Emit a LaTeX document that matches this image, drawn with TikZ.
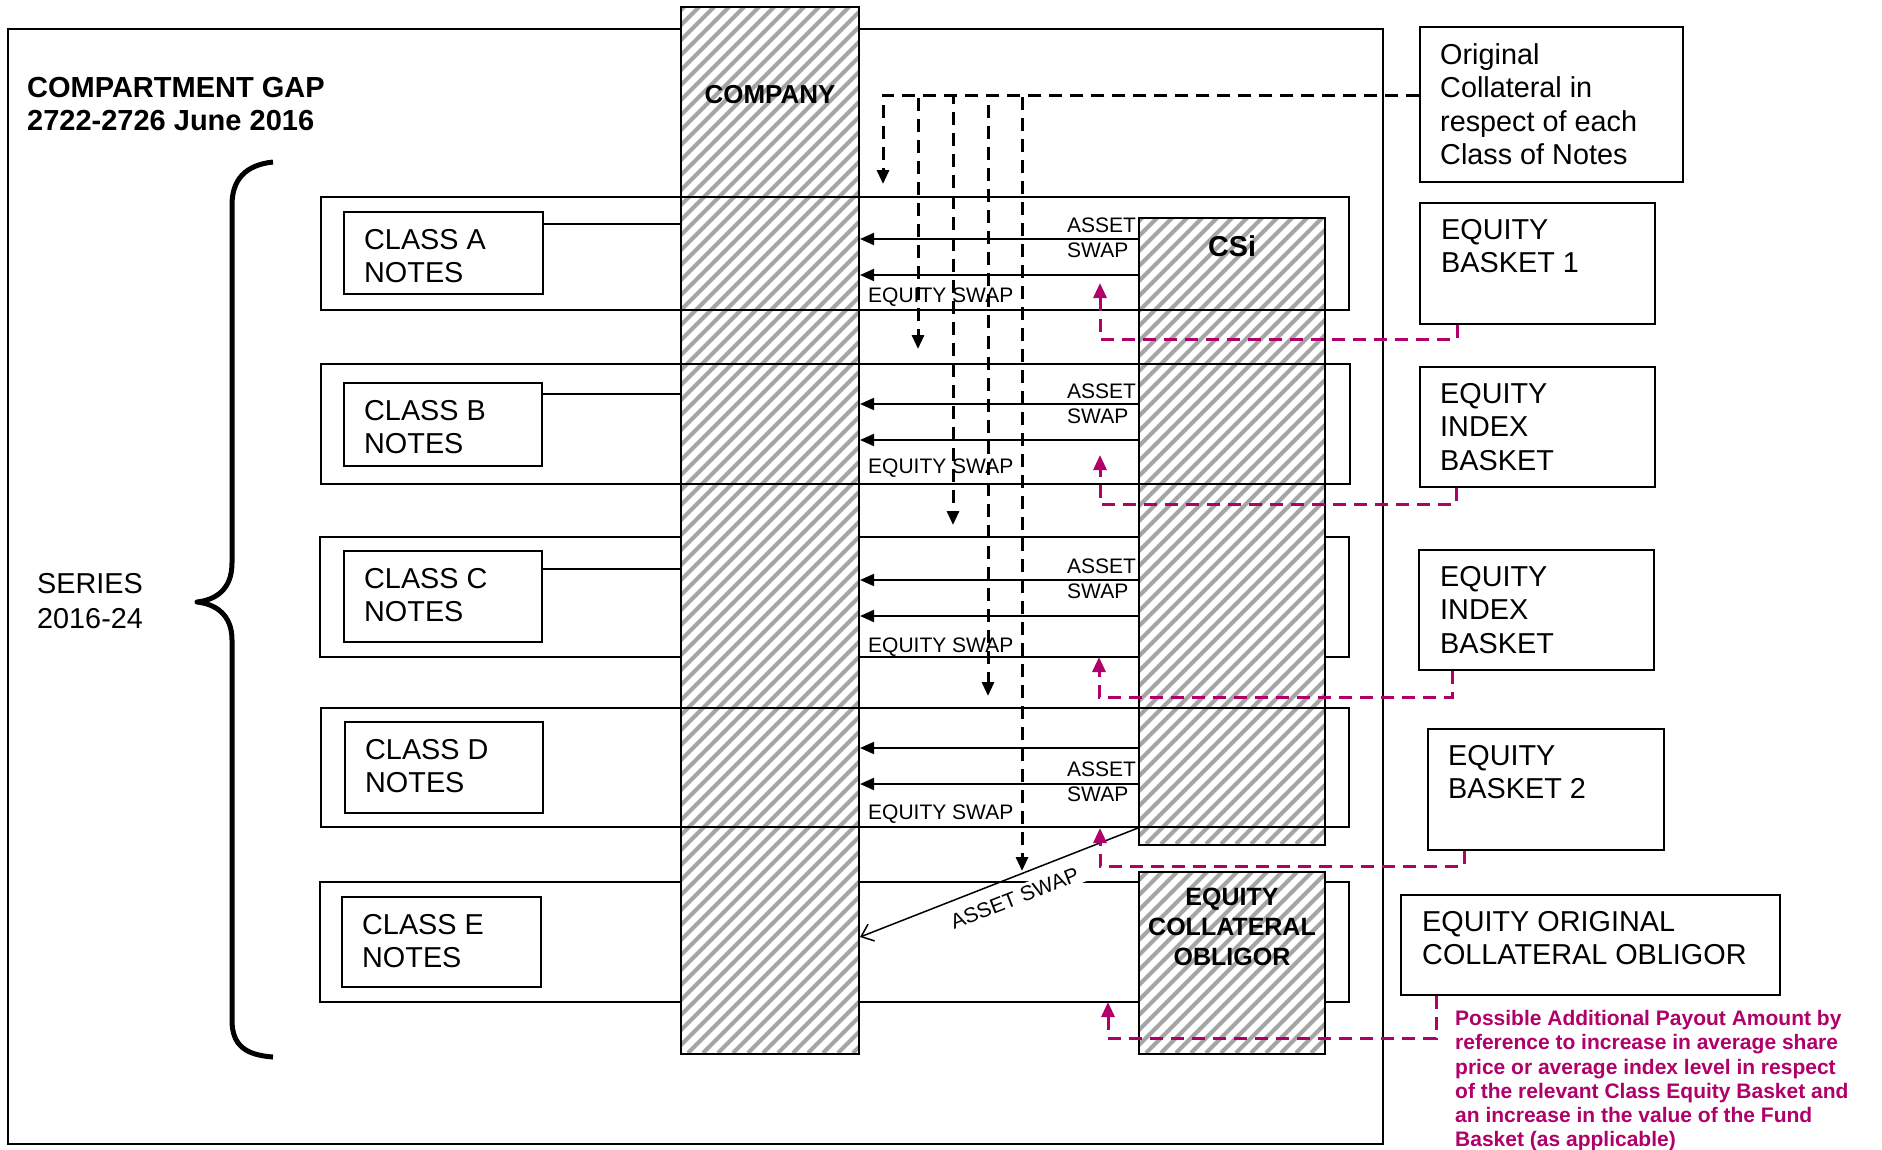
\documentclass[tikz,border=0pt]{standalone}
\usepackage{fontspec}
\setmainfont{Liberation Sans}
\usetikzlibrary{arrows.meta}

\definecolor{payout}{RGB}{176,0,106}
\definecolor{hatchgrey}{RGB}{165,165,165}

\tikzset{
  notebox/.style={draw, line width=2pt, inner sep=0pt, anchor=north west},
  lbl/.style={font=\fontsize{28.8pt}{33.5pt}\selectfont, align=left, inner sep=0pt, anchor=north west},
  swaplbl/.style={font=\fontsize{21pt}{25pt}\selectfont, align=left, inner sep=0pt, anchor=north west},
  flow/.style={-{Triangle[length=14pt,width=12pt]}, line width=2pt},
  feed/.style={-{Triangle[length=14pt,width=12pt]}, line width=3pt, dash pattern=on 13pt off 8pt},
  payline/.style={-{Triangle[length=15pt,width=13pt]}, payout, line width=3pt, dash pattern=on 13pt off 8pt}
}

\begin{document}
\begin{tikzpicture}[x=1pt, y=-1pt]
  \useasboundingbox (0,0) rectangle (1882,1149);

  % Compartment frame
  \draw[line width=2pt] (8,29) rectangle (1383,1144);
  \node[lbl, font=\fontsize{29pt}{33pt}\selectfont\bfseries] (title) at (27,77) {COMPARTMENT GAP\\2722-2726 June 2016};

  % Series brace
  \draw[line width=5pt, line join=round] (273,162) .. controls (245,165) and (232,180) .. (232,205) -- (232,563)
    .. controls (232,590) and (215,600) .. (197,602) .. controls (215,604) and (232,614) .. (232,640)
    -- (232,1020) .. controls (232,1045) and (245,1055) .. (273,1057);
  \node[lbl, font=\fontsize{28.8pt}{35pt}\selectfont] (series) at (37,573) {SERIES\\2016-24};

  % Rows hidden behind the columns
  \node[notebox, minimum width=1029pt, minimum height=120pt] (rowC) at (319,536) {};
  \node[notebox, minimum width=1029pt, minimum height=120pt] (rowE) at (319,881) {};

  % Hatched columns
  \foreach \xa/\ya/\xb/\yb in {680/6/858/1053, 1138/217/1324/844, 1138/871/1324/1053} {
    \begin{scope}
      \clip (\xa,\ya) rectangle (\xb,\yb);
      \fill[white] (\xa,\ya) rectangle (\xb,\yb);
      \pgfmathsetmacro{\h}{\yb-\ya}
      \foreach \k in {-1072,-1057,...,208} {
        \draw[hatchgrey, line width=4pt] (\xa+\k,\yb) -- ++(\h,-\h);
      }
    \end{scope}
  }
  \node[notebox, minimum width=178pt, minimum height=1047pt] (company) at (680,6) {};
  \node[notebox, minimum width=186pt, minimum height=627pt] (csi) at (1138,217) {};
  \node[notebox, minimum width=186pt, minimum height=182pt] (eco) at (1138,871) {};
  \node[lbl, font=\fontsize{26pt}{30pt}\selectfont\bfseries, anchor=north] (companyt) at ([yshift=-79pt]company.north) {COMPANY};
  \node[lbl, font=\fontsize{28.8pt}{33pt}\selectfont\bfseries, anchor=north] (csit) at ([yshift=-18pt]csi.north) {CSi};
  \node[lbl, font=\fontsize{25pt}{30pt}\selectfont\bfseries, align=center, anchor=north] (ecot) at ([yshift=-17pt]eco.north) {EQUITY\\COLLATERAL\\OBLIGOR};

  % Rows in front of the columns
  \node[notebox, minimum width=1028pt, minimum height=113pt] (rowA) at (320,196) {};
  \node[notebox, minimum width=1029pt, minimum height=120pt] (rowB) at (320,363) {};
  \node[notebox, minimum width=1028pt, minimum height=119pt] (rowD) at (320,707) {};

  % Classes of notes
  \foreach \c/\x/\y/\w/\h in {A/343/211/199/82, B/343/382/198/83, C/343/550/198/91, D/344/721/198/91, E/341/896/199/90} {
    \node[notebox, minimum width=\w pt, minimum height=\h pt] (cl\c) at (\x,\y) {};
    \node[lbl] (txt\c) at ([shift={(21pt,-18pt)}]cl\c.north west) {CLASS \c\\NOTES};
  }
  \foreach \c/\d in {A/13, B/12, C/19}
    \draw[line width=2pt] ([yshift=-\d pt]cl\c.north east) -- ([yshift=-\d pt]cl\c.north east -| company.west);

  % Swaps
  \foreach \r/\da/\db/\ta/\te in {A/43/79/218/288, B/41/77/384/459, C/44/80/559/638, D/41/77/762/805} {
    \draw[flow] ([yshift=-\da pt]row\r.north -| csi.west) -- ([yshift=-\da pt]row\r.north -| company.east);
    \draw[flow] ([yshift=-\db pt]row\r.north -| csi.west) -- ([yshift=-\db pt]row\r.north -| company.east);
    \node[swaplbl] (as\r) at (1067,\ta) {ASSET\\SWAP};
    \node[swaplbl] (es\r) at (868,\te) {EQUITY SWAP};
  }
  \draw[line width=1.5pt, {Straight Barb[length=11pt,width=18pt]}-] ([yshift=-56pt]rowE.north -| company.east)
    -- node[swaplbl, fill=white, inner xsep=14pt, inner ysep=3pt, sloped, pos=0.53, below=9pt] (asE) {ASSET SWAP} (rowD.south -| csi.west);

  % Original collateral
  \node[notebox, minimum width=263pt, minimum height=155pt] (orig) at (1419,26) {};
  \node[lbl] (origt) at ([shift={(21pt,-17pt)}]orig.north west) {Original\\Collateral in\\respect of each\\Class of Notes};
  \coordinate (feed1) at (883,184);
  \coordinate (feed2) at (918,349);
  \coordinate (feed3) at (953,525);
  \coordinate (feed4) at (988,696);
  \coordinate (feed5) at (1022,871);
  \foreach \k in {1,...,5}
    \draw[feed] ([yshift=-69pt]orig.north west) -| (feed\k);

  % Baskets
  \node[notebox, minimum width=235pt, minimum height=121pt] (bask1) at (1419,202) {};
  \node[lbl] (bask1t) at ([shift={(22pt,-17pt)}]bask1.north west) {EQUITY\\BASKET 1};
  \node[notebox, minimum width=235pt, minimum height=120pt] (index1) at (1419,366) {};
  \node[lbl] (index1t) at ([shift={(21pt,-17pt)}]index1.north west) {EQUITY\\INDEX\\BASKET};
  \node[notebox, minimum width=235pt, minimum height=120pt] (index2) at (1418,549) {};
  \node[lbl] (index2t) at ([shift={(22pt,-17pt)}]index2.north west) {EQUITY\\INDEX\\BASKET};
  \node[notebox, minimum width=236pt, minimum height=121pt] (bask2) at (1427,728) {};
  \node[lbl] (bask2t) at ([shift={(21pt,-17pt)}]bask2.north west) {EQUITY\\BASKET 2};
  \node[notebox, minimum width=379pt, minimum height=100pt] (eoco) at (1400,894) {};
  \node[lbl] (eocot) at ([shift={(22pt,-17pt)}]eoco.north west) {EQUITY ORIGINAL\\COLLATERAL OBLIGOR};

  % Additional payout
  \coordinate (pay1) at (1100,283);
  \coordinate (pay2) at (1100,455);
  \coordinate (pay3) at (1099,657);
  \coordinate (pay4) at (1100,828);
  \coordinate (pay5) at (1108,1002);
  \foreach \b/\dx/\dy/\k in {bask1/38/14/1, index1/37/16/2, index2/34/26/3, bask2/37/15/4, eoco/36/42/5}
    \draw[payline] ([xshift=\dx pt]\b.south west) -- ++(0,\dy) -| (pay\k);
  \node[lbl, font=\fontsize{21pt}{24.3pt}\selectfont\bfseries, text=payout] (payt) at (1455,1010)
    {Possible Additional Payout Amount by\\reference to increase in average share\\price or average index level in respect\\of the relevant Class Equity Basket and\\an increase in the value of the Fund\\Basket (as applicable)};
\end{tikzpicture}
\end{document}
